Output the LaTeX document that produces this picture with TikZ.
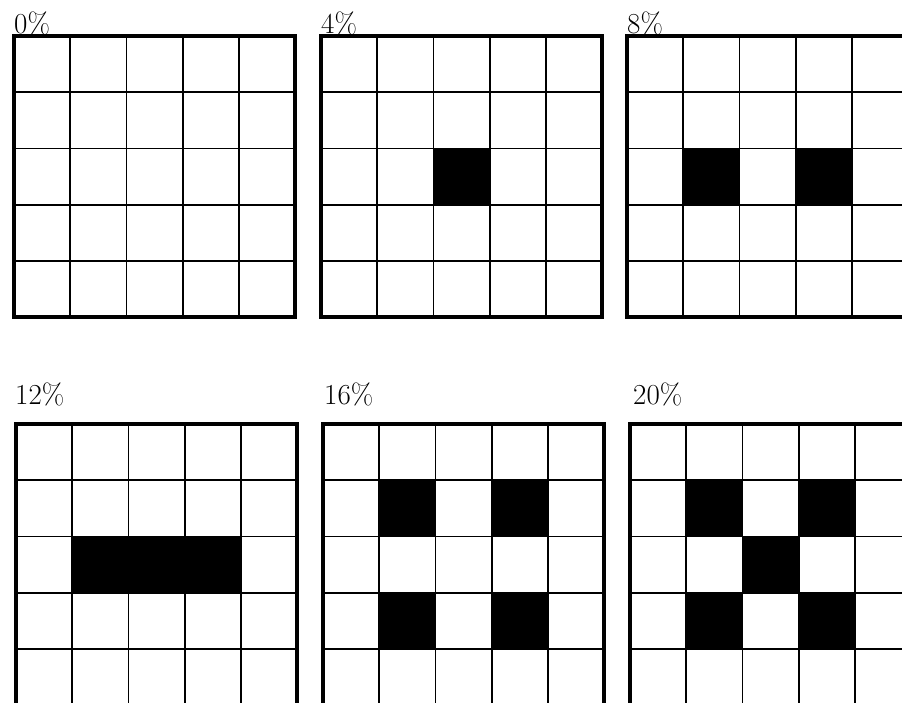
\documentclass[tikz,border=0pt]{standalone}
\newcommand{\cellsz}{56.2}
\newcommand{\drawpanel}[2]{%
  \begin{scope}[shift={(#1,#2)}]
    \foreach \i in {1,...,4} {
      \draw[gridline] (\i*\cellsz,0) -- (\i*\cellsz,281);
      \draw[gridline] (0,\i*\cellsz) -- (281,\i*\cellsz);
    }
    \draw[outerframe] (0,0) rectangle (281,281);
  \end{scope}}
\newcommand{\fillcells}[3]{%
  \begin{scope}[shift={(#1,#2)}]
    \foreach \c/\r in {#3} {
      \fill[cellfill] (\c*\cellsz,\r*\cellsz) rectangle ++(\cellsz,\cellsz);
    }
  \end{scope}}
\begin{document}
\begin{tikzpicture}[x=1pt,y=-1pt,
  outerframe/.style={line width=4.5pt, line join=miter},
  gridline/.style={line width=1.8pt},
  cellfill/.style={fill=black},
  pct/.style={anchor=base west, inner sep=0pt, font=\fontsize{29}{33}\selectfont}]
\useasboundingbox (0,0) rectangle (902,702);
\clip (0,0) rectangle (902,702);
\fill[white] (0,0) rectangle (902,702);
% fills
\fillcells{321}{36}{2/2}
\fillcells{627}{36}{1/2,3/2}
\fillcells{16}{424}{1/2,2/2,3/2}
\fillcells{323}{424}{1/1,3/1,1/3,3/3}
\fillcells{630}{424}{1/1,3/1,2/2,1/3,3/3}
% grids
\drawpanel{14}{36}
\drawpanel{321}{36}
\drawpanel{627}{36}
\drawpanel{16}{424}
\drawpanel{323}{424}
\drawpanel{630}{424}
% labels
\node[pct] (l0) at (14,33) {0\%};
\node[pct] (l4) at (321,33) {4\%};
\node[pct] (l8) at (627,33) {8\%};
\node[pct] (l12) at (15,404) {12\%};
\node[pct] (l16) at (324,404) {16\%};
\node[pct] (l20) at (633,404) {20\%};
\end{tikzpicture}
\end{document}
